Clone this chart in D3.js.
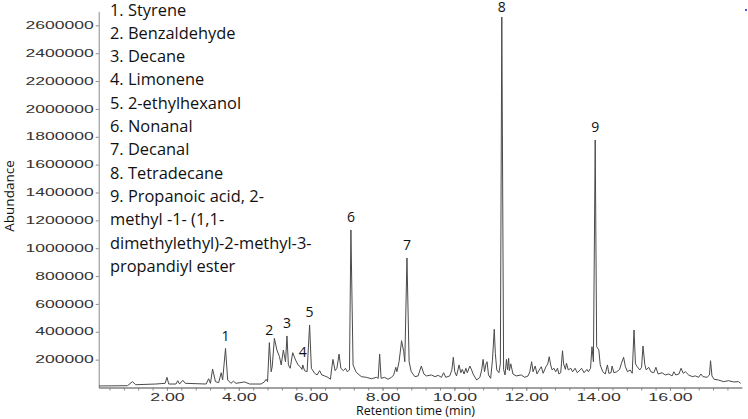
<!DOCTYPE html>
<html><head><meta charset="utf-8">
<script src="https://cdn.jsdelivr.net/npm/d3@7/dist/d3.min.js"></script>
<style>
html,body{margin:0;padding:0;background:#fff;}
svg{display:block;}
</style></head>
<body>
<svg id="chart" width="748" height="419"></svg>
<script>
// ---- Data ----
// Chromatogram trace: [retention time (min), abundance]
const tracePoints = [
[0.11,11000],[0.90,13000],[1.04,42000],[1.13,20000],[1.69,25000],[1.95,30000],[2.00,73000],[2.05,25000],
[2.25,25000],[2.30,49000],[2.35,25000],[2.44,52000],[2.51,30000],[3.09,25000],[3.16,63000],[3.21,30000],
[3.27,133000],[3.35,42000],[3.44,35000],[3.51,106000],[3.55,54000],[3.63,281000],[3.69,54000],[3.78,30000],
[3.85,45000],[3.92,30000],[4.16,40000],[4.30,25000],[4.62,25000],
[4.71,40000],[4.76,59000],[4.80,42000],[4.85,322000],[4.90,113000],[4.93,149000],[4.99,353000],[5.06,269000],
[5.13,223000],[5.18,162000],[5.24,269000],[5.30,185000],[5.34,370000],[5.38,162000],[5.43,138000],[5.50,250000],
[5.58,197000],[5.65,162000],[5.71,149000],[5.76,130000],[5.78,162000],[5.83,121000],[5.90,113000],[5.97,449000],
[6.02,138000],[6.11,102000],[6.18,90000],[6.25,121000],[6.31,90000],[6.39,83000],[6.48,73000],[6.55,59000],
[6.58,126000],[6.62,202000],[6.68,121000],[6.73,138000],[6.79,240000],[6.84,138000],[6.91,121000],[6.97,138000],
[7.02,113000],[7.08,126000],[7.12,1131000],[7.18,162000],[7.26,113000],[7.32,97000],[7.41,78000],[7.55,73000],
[7.69,63000],[7.83,73000],[7.88,66000],[7.92,240000],[7.96,66000],[8.06,73000],[8.15,59000],[8.25,73000],
[8.31,90000],[8.37,145000],[8.40,113000],[8.46,185000],[8.50,269000],[8.53,336000],[8.59,257000],[8.62,185000],
[8.68,930000],[8.74,185000],[8.80,113000],[8.90,78000],[8.99,83000],
[9.08,154000],[9.15,97000],[9.22,83000],[9.36,90000],[9.46,78000],[9.55,87000],[9.64,73000],[9.70,106000],
[9.76,73000],[9.87,83000],[9.93,126000],[9.97,217000],[10.01,113000],[10.06,83000],[10.13,162000],[10.18,106000],
[10.22,130000],[10.27,97000],[10.32,138000],[10.36,106000],[10.43,154000],[10.48,126000],[10.52,97000],[10.62,54000],
[10.71,73000],[10.76,126000],[10.80,202000],[10.84,113000],[10.88,169000],[10.91,185000],[10.95,90000],[11.01,66000],
[11.06,197000],[11.11,418000],[11.14,245000],[11.18,126000],[11.24,106000],[11.28,170000],[11.32,2660000],[11.37,130000],
[11.41,90000],[11.45,202000],[11.48,126000],[11.51,210000],[11.53,121000],[11.57,170000],[11.63,97000],[11.72,83000],
[11.86,90000],[11.96,73000],[12.05,83000],[12.10,113000],[12.15,185000],[12.19,113000],[12.25,154000],[12.30,97000],
[12.36,126000],[12.42,149000],[12.47,102000],[12.55,149000],[12.60,170000],[12.64,221000],[12.68,162000],[12.72,126000],
[12.77,138000],[12.82,113000],[12.87,138000],[12.91,97000],[12.96,106000],[13.01,264000],[13.04,170000],[13.09,130000],
[13.12,174000],[13.17,126000],[13.24,138000],[13.29,113000],[13.36,138000],[13.42,106000],[13.50,126000],
[13.54,138000],[13.61,106000],[13.69,130000],[13.73,113000],[13.79,138000],[13.83,293000],[13.87,185000],[13.92,1777000],
[13.96,293000],[14.02,270000],[14.06,162000],[14.13,113000],[14.20,97000],[14.26,162000],[14.30,102000],[14.36,106000],
[14.39,154000],[14.44,106000],[14.52,113000],[14.60,130000],[14.65,174000],[14.71,217000],[14.76,149000],[14.82,113000],
[14.89,126000],[14.95,102000],[15.00,413000],[15.04,170000],[15.09,149000],[15.16,126000],[15.21,145000],[15.25,298000],
[15.30,166000],[15.34,126000],[15.41,145000],[15.47,113000],[15.55,106000],[15.61,145000],[15.67,97000],[15.78,106000],
[15.87,90000],[15.97,97000],[16.06,83000],[16.11,113000],[16.16,90000],[16.25,97000],[16.31,138000],[16.37,102000],
[16.43,113000],[16.52,90000],[16.62,78000],[16.71,83000],[16.80,73000],[16.86,97000],[16.92,78000],[17.03,73000],
[17.10,90000],[17.13,192000],[17.17,83000],[17.23,59000],[17.35,54000],[17.49,42000],[17.63,49000],[17.77,40000],
[17.91,42000],[17.97,30000]
];

// Peak annotations
const peakLabels = ["1","2","3","4","5","6","7","8","9"];
const peakTimes  = [3.63, 4.85, 5.34, 5.78, 5.97, 7.12, 8.68, 11.32, 13.92];

// Legend (compound list)
const legendLines = [
  "1. Styrene",
  "2. Benzaldehyde",
  "3. Decane",
  "4. Limonene",
  "5. 2-ethylhexanol",
  "6. Nonanal",
  "7. Decanal",
  "8. Tetradecane",
  "9. Propanoic acid, 2-",
  "methyl -1- (1,1-",
  "dimethylethyl)-2-methyl-3-",
  "propandiyl ester"
];

// Axis ticks
const yTickValues = [200000,400000,600000,800000,1000000,1200000,1400000,1600000,1800000,2000000,2200000,2400000,2600000];
const xMajorTicks = [2,4,6,8,10,12,14,16];
const xLabelText  = ["2.00","4.00","6.00","8.00","10.00","12.00","14.00","16.00"];
const xMinorStep = 0.4;
const xDomain = [0.1, 18.0];
const yDomain = [0, 2700000];
const xTitle = "Retention time (min)";
const yTitle = "Abundance";

// ---- Drawing ----
const svg = d3.select("#chart");
const x = d3.scaleLinear().domain(xDomain).range([98.7, 741.8]);
const y = d3.scaleLinear().domain(yDomain).range([387.5, 11.4]);

const tickFont = "'Liberation Sans', Arial, sans-serif";
const textFont = "'Open Sans', 'Noto Sans', sans-serif";

// Y axis
const yAxis = svg.append("g").attr("transform", `translate(${x(xDomain[0])},0)`)
  .call(d3.axisLeft(y).tickValues(yTickValues).tickFormat(d3.format("d")).tickSize(3).tickSizeOuter(0).tickPadding(2));
yAxis.select(".domain").attr("stroke", "#8a8a8a");
yAxis.selectAll(".tick line").attr("stroke", "#8a8a8a");
yAxis.selectAll(".tick text")
  .attr("font-family", tickFont).attr("font-size", 10).attr("fill", "#333")
  .attr("textLength", d => String(d).length * 9.75).attr("lengthAdjust", "spacingAndGlyphs");

// X axis minor ticks
const minorVals = d3.range(xMinorStep, xDomain[1], xMinorStep).filter(v => v > xDomain[0]);
const xMinor = svg.append("g").attr("transform", `translate(0,${y(0)})`)
  .call(d3.axisBottom(x).tickValues(minorVals).tickFormat("").tickSize(3).tickSizeOuter(0));
xMinor.select(".domain").attr("stroke", "#444");
xMinor.selectAll(".tick line").attr("stroke", "#888");

// X axis major labels
const xMajor = svg.append("g").attr("transform", `translate(0,${y(0)})`)
  .call(d3.axisBottom(x).tickValues(xMajorTicks).tickFormat((d,i) => xLabelText[i]).tickSize(3).tickSizeOuter(0).tickPadding(3));
xMajor.select(".domain").remove();
xMajor.selectAll(".tick line").attr("stroke", "#888");
xMajor.selectAll(".tick text")
  .attr("font-family", tickFont).attr("font-size", 10).attr("fill", "#333")
  .attr("textLength", (d,i) => { const s = xLabelText[i]; return (s.length - 1) * 9.7 + 5.5; })
  .attr("lengthAdjust", "spacingAndGlyphs");

// Trace
const line = d3.line().x(d => x(d[0])).y(d => y(d[1]));
svg.append("path").datum(tracePoints)
  .attr("d", line).attr("fill", "none").attr("stroke", "#4a4a4a").attr("stroke-width", 1)
  .attr("stroke-linejoin", "miter");

// Peak labels
const peakLookup = new Map(tracePoints.map(p => [p[0], p[1]]));
svg.append("g").selectAll("text").data(peakLabels).join("text")
  .attr("x", (d,i) => x(peakTimes[i]))
  .attr("y", (d,i) => Math.max(12, y(peakLookup.get(peakTimes[i])) - 7.5))
  .attr("text-anchor", "middle")
  .attr("font-family", textFont).attr("font-size", 14).attr("fill", "#111")
  .text(d => d);

// Legend
svg.append("g").selectAll("text").data(legendLines).join("text")
  .attr("x", 110).attr("y", (d,i) => 15.5 + i * 23.3)
  .attr("font-family", textFont).attr("font-size", 16.4).attr("fill", "#111")
  .text(d => d);

// Axis titles
svg.append("text").attr("x", 415.5).attr("y", 415)
  .attr("text-anchor", "middle").attr("font-family", textFont).attr("font-size", 12.5).attr("fill", "#111")
  .text(xTitle);
svg.append("text").attr("transform", "translate(13.5,196) rotate(-90)")
  .attr("text-anchor", "middle").attr("font-family", textFont).attr("font-size", 13.5).attr("fill", "#111")
  .text(yTitle);

// small blue marker at top right (as in reference)
svg.append("rect").attr("x", 745).attr("y", 9).attr("width", 2).attr("height", 2).attr("fill", "#4a5de0");
</script>
</body></html>
